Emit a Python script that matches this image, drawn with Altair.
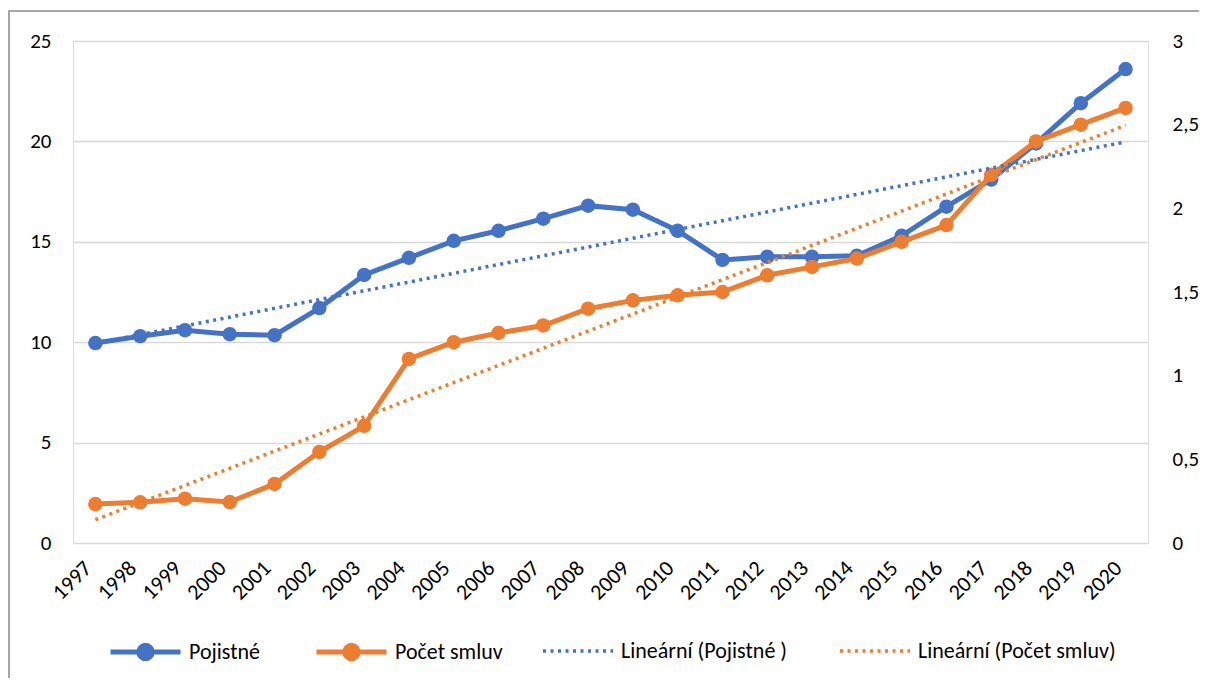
import altair as alt
import pandas as pd

years = list(range(1997, 2021))
pojistne = [9.96, 10.3, 10.6, 10.4, 10.35, 11.7, 13.35, 14.2, 15.05, 15.55, 16.15, 16.8, 16.6,
            15.55, 14.1, 14.25, 14.25, 14.3, 15.3, 16.75, 18.1, 19.9, 21.9, 23.6]
pocet = [0.233, 0.243, 0.265, 0.245, 0.353, 0.544, 0.70, 1.10, 1.20, 1.255, 1.30, 1.40, 1.45,
         1.48, 1.50, 1.60, 1.65, 1.70, 1.80, 1.90, 2.20, 2.40, 2.50, 2.60]
data_names = ["Pojistné", "Počet smluv"]
trend_names = ["Lineární (Pojistné )", "Lineární (Počet smluv)"]
left_ticks = [0, 5, 10, 15, 20, 25]
right_ticks = [0, 0.5, 1, 1.5, 2, 2.5, 3]

BLUE = "#4472C4"
ORANGE = "#ED7D31"
FONT = "Carlito, Lato, sans-serif"
TICK_FS = 21
LEG_FS = 22

df = pd.DataFrame({"year": years, "pojistne": pojistne, "pocet": pocet})

LINE_CIRCLE = "M-1,0L1,0M-0.19,0A0.19,0.19,0,1,1,0.19,0A0.19,0.19,0,1,1,-0.19,0Z"

legend_common = dict(orient="none", direction="horizontal", title=None,
                     labelFontSize=LEG_FS, labelFont=FONT, labelColor="#000000",
                     labelOffset=6, labelLimit=400, padding=0, legendY=573)

color_data = alt.Color(
    "series:N",
    scale=alt.Scale(domain=data_names, range=[BLUE, ORANGE]),
    legend=alt.Legend(symbolType=LINE_CIRCLE, symbolSize=4900, symbolStrokeWidth=5,
                      columnPadding=45, legendX=35, **legend_common),
)
color_trend = alt.Color(
    "series:N",
    scale=alt.Scale(domain=trend_names, range=[BLUE, ORANGE]),
    legend=alt.Legend(symbolType="stroke", symbolSize=4900, symbolStrokeWidth=3.5,
                      symbolDash=[3, 4.5], columnPadding=46, legendX=468, **legend_common),
)

x = alt.X("year:Q", scale=alt.Scale(domain=[1996.5, 2020.5], nice=False, zero=False),
          axis=alt.Axis(values=years, format="d", labelAngle=-45, grid=False, domain=False,
                        ticks=False, labelFontSize=22, labelFont=FONT, labelColor="#000000",
                        labelAlign="right", labelBaseline="top", labelPadding=14,
                        labelOffset=-15, labelOverlap=False, labelBound=False, title=None))

yl_scale = alt.Scale(domain=[0, 25], nice=False)
yr_scale = alt.Scale(domain=[0, 3], nice=False)

yl_axis = alt.Axis(values=left_ticks, orient="left", grid=True, gridColor="#D9D9D9", gridWidth=1.5,
                   domain=False, ticks=False, labelFontSize=TICK_FS, labelFont=FONT,
                   labelColor="#000000", labelPadding=22, title=None)
yr_axis = alt.Axis(values=right_ticks, orient="right", grid=False, domain=False, ticks=False,
                   labelFontSize=TICK_FS, labelFont=FONT, labelColor="#000000", labelPadding=24,
                   title=None, labelAlign="left", format="~g",
                   labelExpr="replace(datum.label, '.', ',')")

base = alt.Chart(df)

blue_line = base.transform_calculate(series="'Pojistné'").mark_line(
    strokeWidth=5, point=alt.OverlayMarkDef(filled=True, size=210, opacity=1)
).encode(x=x, y=alt.Y("pojistne:Q", scale=yl_scale, axis=yl_axis), color=color_data)
orange_line = base.transform_calculate(series="'Počet smluv'").mark_line(
    strokeWidth=5, point=alt.OverlayMarkDef(filled=True, size=210, opacity=1)
).encode(x=x, y=alt.Y("pocet:Q", scale=yr_scale, axis=yr_axis), color=color_data)

blue_trend = base.transform_regression("year", "pojistne").transform_calculate(
    series="'Lineární (Pojistné )'"
).mark_line(strokeWidth=3.5, strokeDash=[3, 4.5]).encode(
    x=x, y=alt.Y("pojistne:Q", scale=yl_scale, axis=None), color=color_trend)
orange_trend = base.transform_regression("year", "pocet").transform_calculate(
    series="'Lineární (Počet smluv)'"
).mark_line(strokeWidth=3.5, strokeDash=[3, 4.5]).encode(
    x=x, y=alt.Y("pocet:Q", scale=yr_scale, axis=None), color=color_trend)

frame = alt.Chart(alt.Data(values=[{}])).mark_rect(
    fill="transparent", stroke="#A6A6A6", strokeWidth=2
).encode(x=alt.value(-64), y=alt.value(-30), x2=alt.value(1250), y2=alt.value(720))

data_layer = alt.layer(blue_line, orange_line).resolve_scale(y="independent")
trend_layer = alt.layer(blue_trend, orange_trend).resolve_scale(y="independent")

chart = alt.layer(frame, data_layer, trend_layer).resolve_scale(
    y="independent", color="independent"
).properties(
    width=1075, height=502,
    autosize=alt.AutoSizeParams(type="none"),
    padding={"left": 65, "top": 33, "right": 51, "bottom": 135},
).configure_view(stroke=None).configure(background="white")

chart.save("out.html", embed_options={"renderer": "svg", "actions": False})
